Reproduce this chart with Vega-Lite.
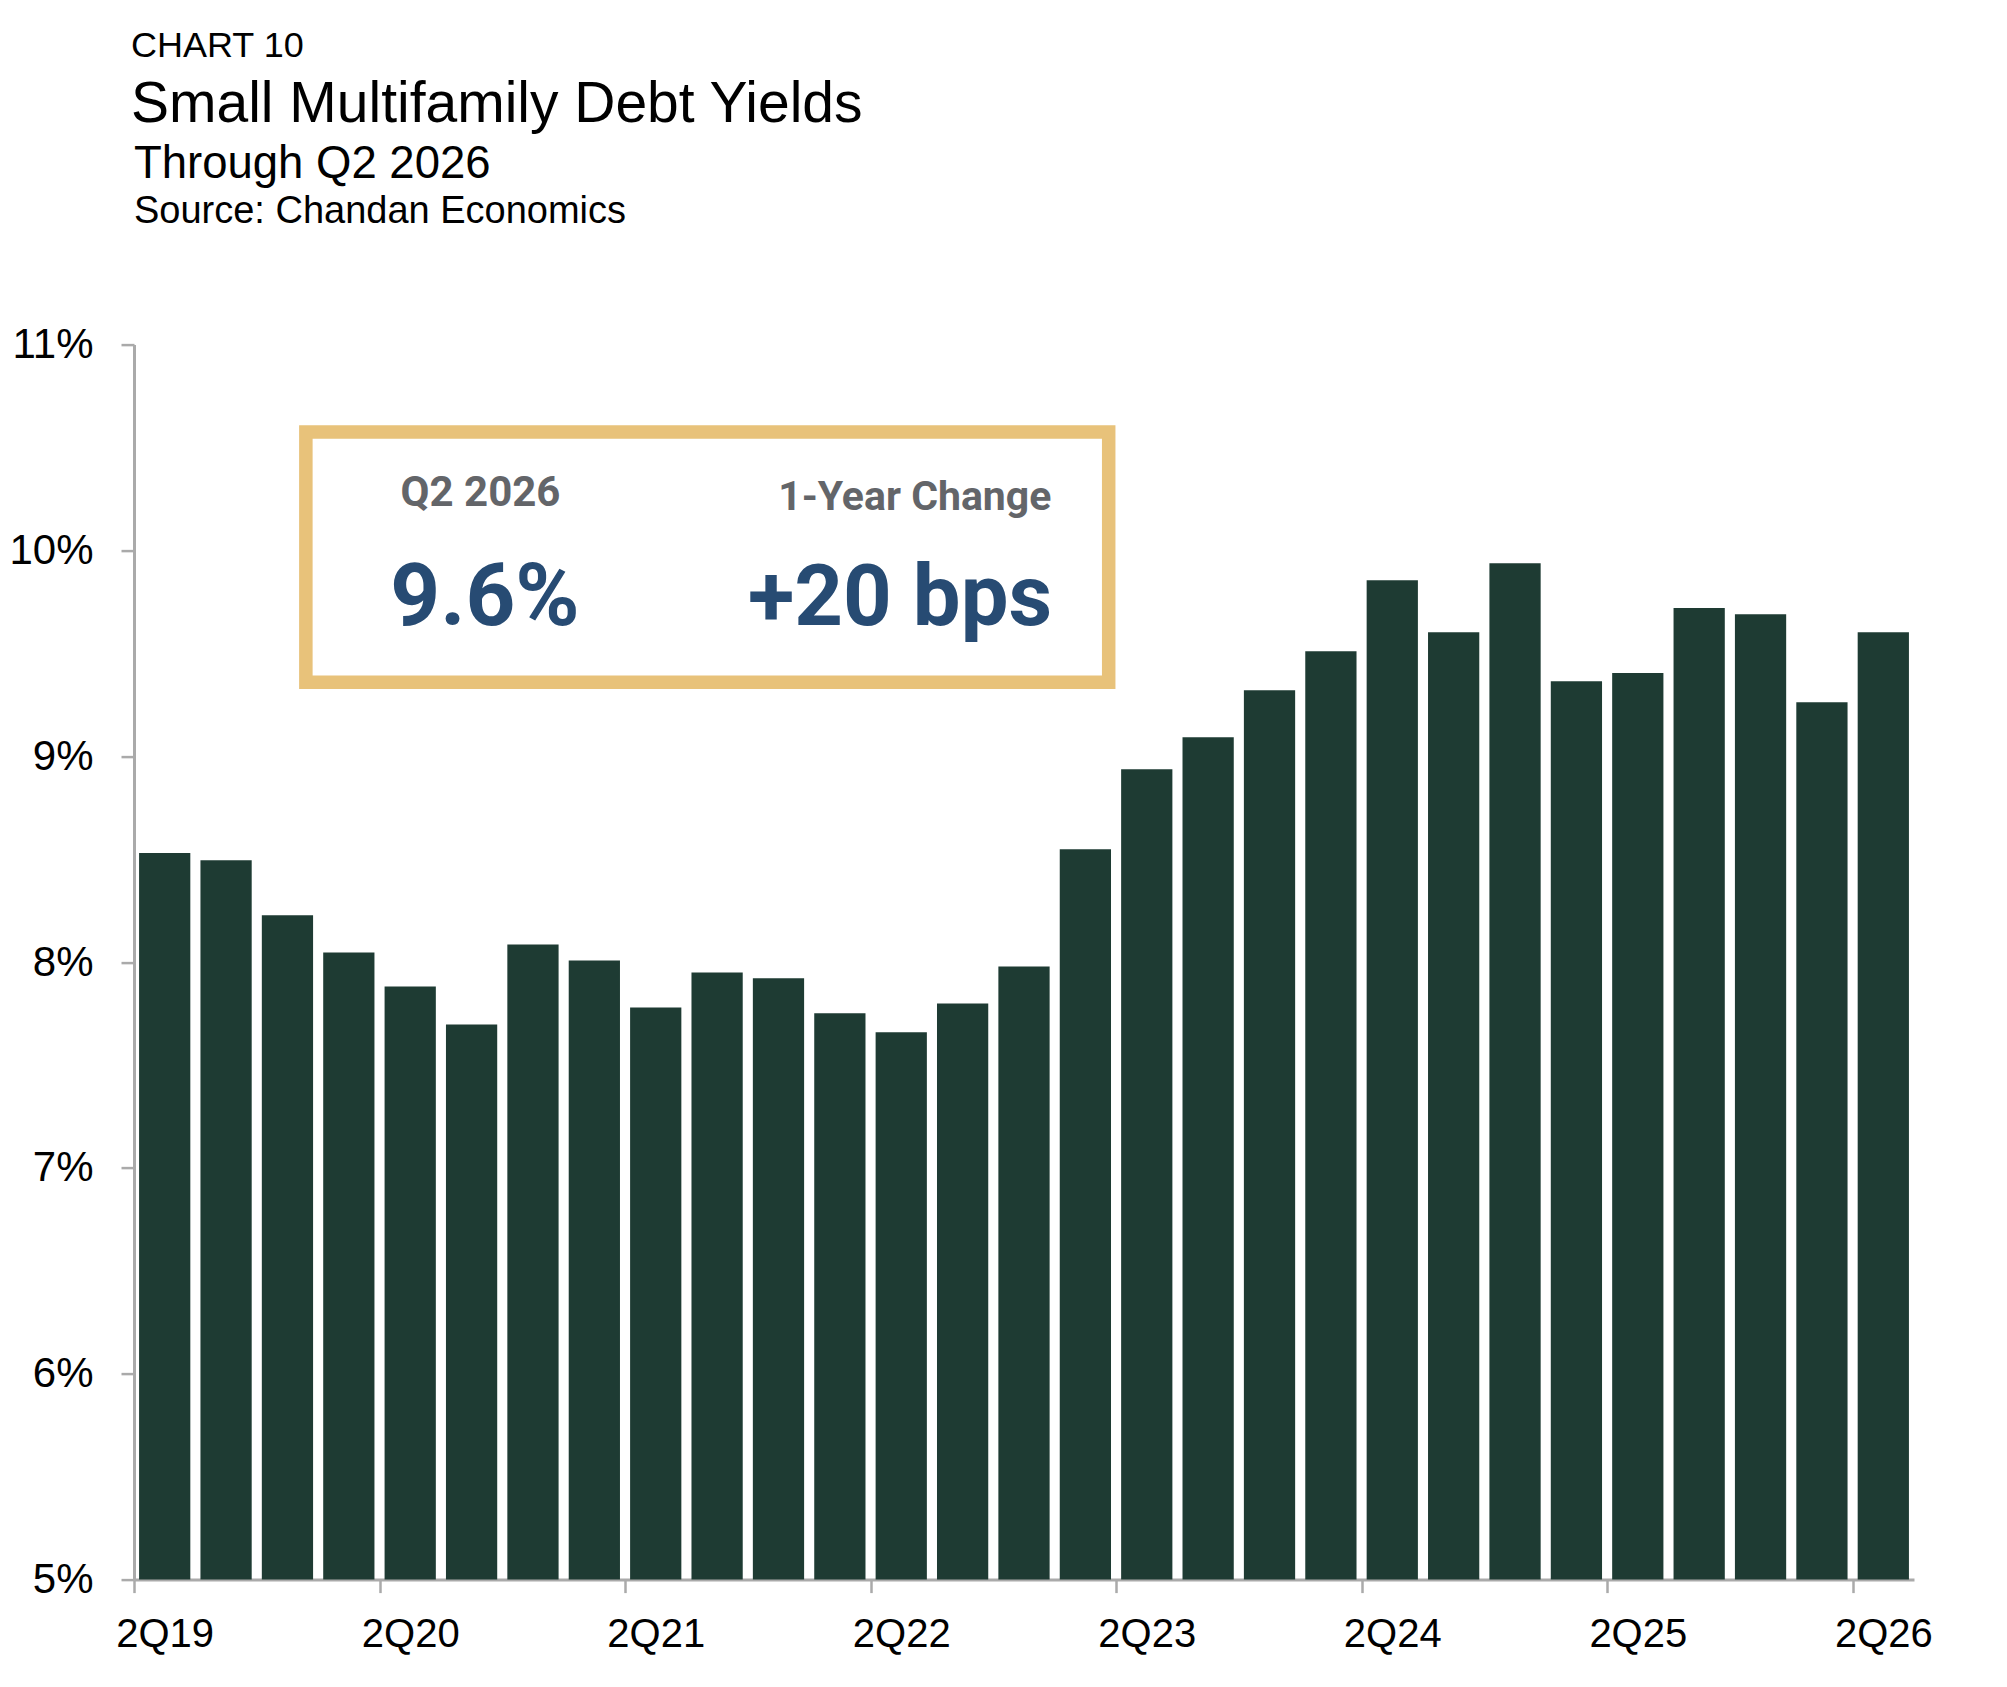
{
  "$schema": "https://vega.github.io/schema/vega-lite/v6.json",
  "background": "white",
  "padding": {"left": 8, "top": 27.6, "right": 0, "bottom": 0},
  "title": {
    "text": "CHART 10",
    "subtitle": "Small Multifamily Debt Yields",
    "anchor": "start",
    "frame": "group",
    "dx": -3,
    "font": "Liberation Sans",
    "subtitleFont": "Liberation Sans",
    "fontSize": 36,
    "subtitleFontSize": 57,
    "fontWeight": "normal",
    "subtitleFontWeight": "normal",
    "color": "#000000",
    "subtitleColor": "#000000",
    "subtitlePadding": 12,
    "offset": 8
  },
  "vconcat": [
    {
      "width": 1780,
      "height": 1235,
      "title": {
        "text": "Through Q2 2026",
        "subtitle": "Source: Chandan Economics",
        "anchor": "start",
        "frame": "group",
        "font": "Liberation Sans",
        "subtitleFont": "Liberation Sans",
        "fontSize": 45.5,
        "subtitleFontSize": 38,
        "fontWeight": "normal",
        "subtitleFontWeight": "normal",
        "color": "#000000",
        "subtitleColor": "#000000",
        "subtitlePadding": 5.4,
        "offset": 92.5
      },
      "resolve": {"scale": {"x": "independent"}},
      "layer": [
        {
          "data": {
            "values": [
              {"quarter": "2Q19", "yield": 8.53},
              {"quarter": "3Q19", "yield": 8.495},
              {"quarter": "4Q19", "yield": 8.227},
              {"quarter": "1Q20", "yield": 8.047},
              {"quarter": "2Q20", "yield": 7.882},
              {"quarter": "3Q20", "yield": 7.697},
              {"quarter": "4Q20", "yield": 8.086},
              {"quarter": "1Q21", "yield": 8.008},
              {"quarter": "2Q21", "yield": 7.78},
              {"quarter": "3Q21", "yield": 7.95},
              {"quarter": "4Q21", "yield": 7.921},
              {"quarter": "1Q22", "yield": 7.751},
              {"quarter": "2Q22", "yield": 7.659},
              {"quarter": "3Q22", "yield": 7.799},
              {"quarter": "4Q22", "yield": 7.979},
              {"quarter": "1Q23", "yield": 8.548},
              {"quarter": "2Q23", "yield": 8.937},
              {"quarter": "3Q23", "yield": 9.092},
              {"quarter": "4Q23", "yield": 9.321},
              {"quarter": "1Q24", "yield": 9.51},
              {"quarter": "2Q24", "yield": 9.855},
              {"quarter": "3Q24", "yield": 9.603},
              {"quarter": "4Q24", "yield": 9.938},
              {"quarter": "1Q25", "yield": 9.365},
              {"quarter": "2Q25", "yield": 9.404},
              {"quarter": "3Q25", "yield": 9.72},
              {"quarter": "4Q25", "yield": 9.69},
              {"quarter": "1Q26", "yield": 9.262},
              {"quarter": "2Q26", "yield": 9.603}
            ]
          },
          "mark": {"type": "bar", "color": "#1e3b33"},
          "encoding": {
            "x": {
              "field": "quarter",
              "type": "ordinal",
              "sort": null,
              "scale": {"paddingInner": 0.165, "paddingOuter": 0.0825},
              "axis": {
                "title": null,
                "values": ["2Q19", "2Q20", "2Q21", "2Q22", "2Q23", "2Q24", "2Q25", "2Q26"],
                "labelAngle": 0,
                "labelFont": "Liberation Sans",
                "labelFontSize": 40,
                "labelColor": "#000000",
                "labelPadding": 22,
                "tickOffset": -30.69,
                "labelOffset": 30.69,
                "tickSize": 13,
                "tickWidth": 2.5,
                "tickColor": "#aaaaaa",
                "domainColor": "#aaaaaa",
                "domainWidth": 3,
                "grid": false
              }
            },
            "y": {
              "field": "yield",
              "type": "quantitative",
              "scale": {"domain": [5, 11], "nice": false, "zero": false},
              "axis": {
                "title": null,
                "values": [5, 6, 7, 8, 9, 10, 11],
                "labelExpr": "datum.value + '%'",
                "labelFont": "Liberation Sans",
                "labelFontSize": 42,
                "labelColor": "#000000",
                "labelPadding": 28,
                "tickSize": 13,
                "tickWidth": 2.5,
                "tickColor": "#aaaaaa",
                "domainColor": "#aaaaaa",
                "domainWidth": 3,
                "grid": false
              }
            },
            "y2": {"datum": 5}
          }
        },
        {
          "data": {
            "values": [
              {"item": "latest_label", "text": "Q2 2026"},
              {"item": "latest_value", "text": "9.6%"},
              {"item": "change_label", "text": "1-Year Change"},
              {"item": "change_value", "text": "+20 bps"}
            ]
          },
          "layer": [
            {
              "transform": [{"filter": "datum.item == 'latest_label'"}],
              "mark": {"type": "rect", "fill": "white", "stroke": "#e8c27a", "strokeWidth": 13.5},
              "encoding": {
                "x": {"datum": 2.8, "type": "quantitative", "scale": {"domain": [0, 29]}, "axis": null},
                "x2": {"datum": 15.88},
                "y": {"datum": 10.575, "type": "quantitative"},
                "y2": {"datum": 9.36}
              }
            },
            {
              "transform": [{"filter": "datum.item == 'latest_label'"}],
              "mark": {"type": "text", "font": "Roboto", "fontWeight": "bold", "fontSize": 42, "color": "#636569", "align": "center", "baseline": "alphabetic"},
              "encoding": {
                "x": {"datum": 5.645, "type": "quantitative", "scale": {"domain": [0, 29]}, "axis": null},
                "y": {"datum": 10.215, "type": "quantitative"},
                "text": {"field": "text"}
              }
            },
            {
              "transform": [{"filter": "datum.item == 'latest_value'"}],
              "mark": {"type": "text", "font": "Roboto", "fontWeight": "bold", "fontSize": 87, "color": "#274b73", "align": "center", "baseline": "alphabetic"},
              "encoding": {
                "x": {"datum": 5.718, "type": "quantitative", "scale": {"domain": [0, 29]}, "axis": null},
                "y": {"datum": 9.638, "type": "quantitative"},
                "text": {"field": "text"}
              }
            },
            {
              "transform": [{"filter": "datum.item == 'change_label'"}],
              "mark": {"type": "text", "font": "Roboto", "fontWeight": "bold", "fontSize": 41, "color": "#636569", "align": "center", "baseline": "alphabetic"},
              "encoding": {
                "x": {"datum": 12.72, "type": "quantitative", "scale": {"domain": [0, 29]}, "axis": null},
                "y": {"datum": 10.196, "type": "quantitative"},
                "text": {"field": "text"}
              }
            },
            {
              "transform": [{"filter": "datum.item == 'change_value'"}],
              "mark": {"type": "text", "font": "Roboto", "fontWeight": "bold", "fontSize": 85, "color": "#274b73", "align": "center", "baseline": "alphabetic"},
              "encoding": {
                "x": {"datum": 12.48, "type": "quantitative", "scale": {"domain": [0, 29]}, "axis": null},
                "y": {"datum": 9.638, "type": "quantitative"},
                "text": {"field": "text"}
              }
            }
          ]
        }
      ]
    }
  ],
  "config": {
    "view": {"stroke": null}
  }
}
